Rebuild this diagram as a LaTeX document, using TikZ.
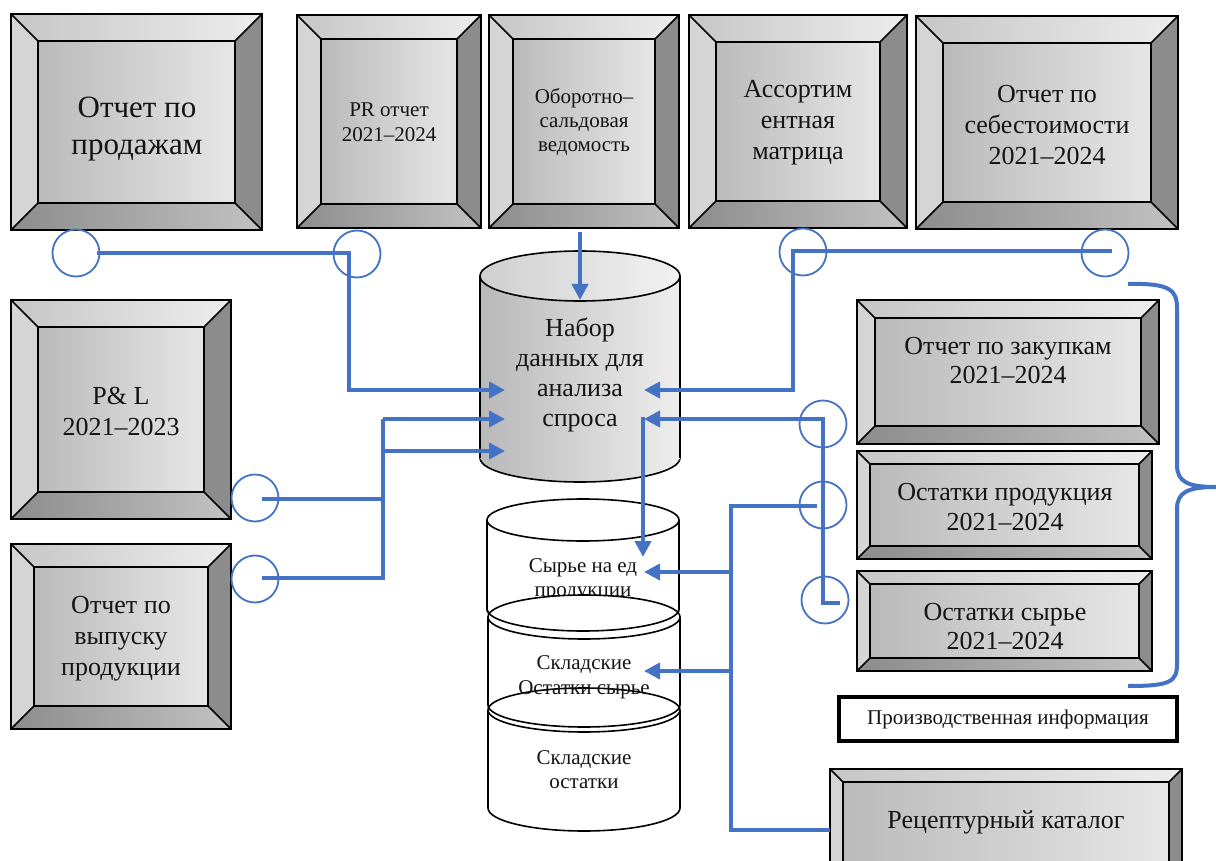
\documentclass[tikz,border=0pt]{standalone}
\usepackage{fontspec}
\setmainfont{Liberation Serif}
\usetikzlibrary{arrows.meta}

\definecolor{link}{HTML}{4472C4}
\definecolor{faceL}{HTML}{BABABA}
\definecolor{faceR}{HTML}{E6E6E6}
\definecolor{topL}{HTML}{C6C6C6}
\definecolor{topR}{HTML}{EDEDED}
\definecolor{sideL}{HTML}{D5D5D5}
\definecolor{sideR}{HTML}{8C8C8C}
\definecolor{botL}{HTML}{8C8C8C}
\definecolor{botR}{HTML}{C2C2C2}
\definecolor{cylL}{HTML}{B8B8B8}
\definecolor{cylR}{HTML}{EEEEEE}
\definecolor{capL}{HTML}{CFCFCF}
\definecolor{capR}{HTML}{F2F2F2}
\definecolor{ink}{HTML}{141414}

\newcommand\fs[2]{\fontsize{#1}{#2}\selectfont}

% bevelled frame: x1, y1, x2, y2, bevel width
\newcommand\bevelframe[5]{%
  \shade[left color=topL,right color=topR] (#1,#2) -- (#3,#2) -- (#3-#5,#2+#5) -- (#1+#5,#2+#5) -- cycle;
  \fill[sideL] (#1,#2) -- (#1+#5,#2+#5) -- (#1+#5,#4-#5) -- (#1,#4) -- cycle;
  \fill[sideR] (#3,#2) -- (#3,#4) -- (#3-#5,#4-#5) -- (#3-#5,#2+#5) -- cycle;
  \shade[left color=botL,right color=botR] (#1,#4) -- (#3,#4) -- (#3-#5,#4-#5) -- (#1+#5,#4-#5) -- cycle;
  \shade[left color=faceL,right color=faceR] (#1+#5,#2+#5) rectangle (#3-#5,#4-#5);
  \draw[frame] (#1,#2) rectangle (#3,#4) (#1+#5,#2+#5) rectangle (#3-#5,#4-#5)
    (#1,#2) -- (#1+#5,#2+#5) (#3,#2) -- (#3-#5,#2+#5)
    (#1,#4) -- (#1+#5,#4-#5) (#3,#4) -- (#3-#5,#4-#5);
}

% plain drum: centre x, top y, bottom y, x radius, top y radius, bottom y radius
\newcommand\drum[6]{%
  \begin{scope}
    \clip (#1-#4-5,#3) rectangle (#1+#4+5,#3+#6+5);
    \draw[frame] (#1,#3) ellipse[x radius=#4,y radius=#6];
  \end{scope}
  \draw[frame] (#1-#4,#2) -- (#1-#4,#3) (#1+#4,#2) -- (#1+#4,#3);
}

\begin{document}
\begin{tikzpicture}[x=1pt,y=-1pt,
  frame/.style={draw=black,line width=1.6pt,line join=miter},
  lbl/.style={align=center,text=ink,inner sep=0pt},
  ring/.style={circle,draw=link,line width=1.8pt,minimum size=47pt,inner sep=0pt},
  link/.style={draw=link,line width=4.5pt,line join=miter},
  arrow/.style={link,-{Triangle[length=16pt,width=16pt]}},
  brace/.style={draw=link,line width=4pt},
  tag/.style={draw=black,line width=4pt,minimum width=338pt,minimum height=44pt,inner sep=0pt,align=center,text=ink}]

\useasboundingbox (0,0) rectangle (1216,861);
\fill[white] (0,0) rectangle (1216,861);
\clip (0,0) rectangle (1216,861);

% ---------- source reports ----------
\bevelframe{11}{14}{262}{230}{27}
\node[lbl,font=\fs{31}{37}] (sales) at (137,129) {Отчет по\\продажам};

\bevelframe{297}{15}{481}{228}{24}
\node[lbl,font=\fs{21}{25}] (pr) at (389,122) {PR отчет\\2021–2024};

\bevelframe{489}{15}{679}{228}{24}
\node[lbl,font=\fs{21}{24}] (osv) at (584,122) {Оборотно–\\сальдовая\\ведомость};

\bevelframe{689}{15}{907}{228}{27}
\node[lbl,font=\fs{26}{31}] (assort) at (798,123) {Ассортим\\ентная\\матрица};

\bevelframe{916}{16}{1178}{229}{27}
\node[lbl,font=\fs{26}{31}] (cost) at (1047,125) {Отчет по\\себестоимости\\2021–2024};

\bevelframe{11}{300}{231}{519}{27}
\node[lbl,font=\fs{26}{31}] (pl) at (121,411) {P\& L\\2021–2023};

\bevelframe{11}{544}{231}{729}{23}
\node[lbl,font=\fs{26}{31}] (output) at (121,639) {Отчет по\\выпуску\\продукции};

\bevelframe{857}{300}{1159}{444}{18}
\node[lbl,font=\fs{26}{29}] (purch) at (1008,361) {Отчет по закупкам\\2021–2024};

\bevelframe{857}{451}{1152}{559}{13}
\node[lbl,font=\fs{26}{30}] (stockp) at (1005,507) {Остатки продукция\\2021–2024};

\bevelframe{857}{571}{1152}{671}{13}
\node[lbl,font=\fs{26}{29}] (stockr) at (1005,627) {Остатки сырье\\2021–2024};

\bevelframe{830}{769}{1182}{875}{13}
\node[lbl,font=\fs{26}{30}] (recipe) at (1006,822) {Рецептурный каталог};

\node[tag,font=\fs{21}{24}] (prodinfo) at (1008,719) {Производственная информация};

% ---------- demand data set ----------
\shade[left color=cylL,right color=cylR] (580,458) ellipse[x radius=100,y radius=24];
\draw[frame] (580,458) ellipse[x radius=100,y radius=24];
\shade[left color=cylL,right color=cylR] (480,276) rectangle (680,458);
\draw[frame] (480,276) -- (480,458) (680,276) -- (680,458);
\shade[left color=capL,right color=capR] (580,276) ellipse[x radius=100,y radius=25];
\draw[frame] (580,276) ellipse[x radius=100,y radius=25];
\node[lbl,font=\fs{26}{30.3}] (dataset) at (580,375) {Набор\\данных для\\анализа\\спроса};

% ---------- warehouse stack ----------
\drum{583}{520}{609}{96}{21}{22}
\draw[frame] (583,520) ellipse[x radius=96,y radius=21];
\node[lbl,font=\fs{21}{24}] (rawunit) at (583,580) {Сырье на ед\\продукции};
\fill[white] (584,617) ellipse[x radius=96,y radius=22];
\begin{scope}
  \clip (480,609) rectangle (690,640);
  \draw[frame] (583,609) ellipse[x radius=96,y radius=22];
\end{scope}
\drum{584}{617}{705}{96}{22}{22}
\draw[frame] (584,617) ellipse[x radius=96,y radius=22];
\drum{584}{710}{808}{96}{22}{23}
\draw[frame] (584,710) ellipse[x radius=96,y radius=22];
\node[lbl,font=\fs{21}{25}] (rawstock) at (584,677) {Складские\\Остатки сырье};
\node[lbl,font=\fs{21}{24}] (stock) at (584,770) {Складские\\остатки};

% ---------- junction rings ----------
\node[ring] (r1) at (76,253) {};
\node[ring] (r2) at (357,254) {};
\node[ring] (r3) at (803,252) {};
\node[ring] (r4) at (1105,253) {};
\node[ring] (r5) at (255,498) {};
\node[ring] (r6) at (255,579) {};
\node[ring] (r7) at (823,424) {};
\node[ring] (r8) at (823,505) {};
\node[ring] (r9) at (825,600) {};

% ---------- connector points ----------
\coordinate (sSales) at (97,253);
\coordinate (kSales) at (349,253);
\coordinate (inSales) at (505,390);
\coordinate (sOsv) at (580,232);
\coordinate (inOsv) at (580,300);
\coordinate (sCost) at (1112,251);
\coordinate (kCost) at (793,251);
\coordinate (inCost) at (644,390);
\coordinate (sPl) at (262,499);
\coordinate (sOut) at (262,578);
\coordinate (kLeft) at (383,419);
\coordinate (inLeftA) at (505,419);
\coordinate (inLeftB) at (505,451);
\coordinate (sStockR) at (840,603);
\coordinate (kStockR) at (823,603);
\coordinate (inStockR) at (644,419);
\coordinate (kDown) at (643,417);
\coordinate (inRawUnit) at (643,557);
\coordinate (sStockP) at (817,506);
\coordinate (kStockP) at (731,506);
\coordinate (sRecipe) at (830,830);
\coordinate (inRawA) at (644,572);
\coordinate (inRawB) at (644,671);

% ---------- connectors ----------
\draw[arrow] (sSales) -- (kSales) |- (inSales);
\draw[arrow] (sOsv) -- (inOsv);
\draw[arrow] (sCost) -- (kCost) |- (inCost);
\draw[link] (sOut) -| (kLeft);
\draw[link] (sPl) -- (sPl -| kLeft);
\draw[arrow] (kLeft) -- (inLeftA);
\draw[arrow] (kLeft |- inLeftB) -- (inLeftB);
\draw[arrow] (sStockR) -- (kStockR) |- (inStockR);
\draw[arrow] (kDown) -- (inRawUnit);
\draw[link] (sStockP) -- (kStockP) |- (sRecipe);
\draw[arrow] (kStockP |- inRawA) -- (inRawA);
\draw[arrow] (kStockP |- inRawB) -- (inRawB);

% ---------- production group brace ----------
\coordinate (bTop) at (1128,284);
\coordinate (bTip) at (1216,487);
\coordinate (bBot) at (1128,686);
\draw[brace] (bTop) .. controls (1170,283) and (1177,290) .. (1177,308) -- (1177,465)
  .. controls (1177,482) and (1188,487) .. (bTip)
  .. controls (1188,487) and (1177,492) .. (1177,509) -- (1177,664)
  .. controls (1177,682) and (1170,686) .. (bBot);

\end{tikzpicture}
\end{document}
